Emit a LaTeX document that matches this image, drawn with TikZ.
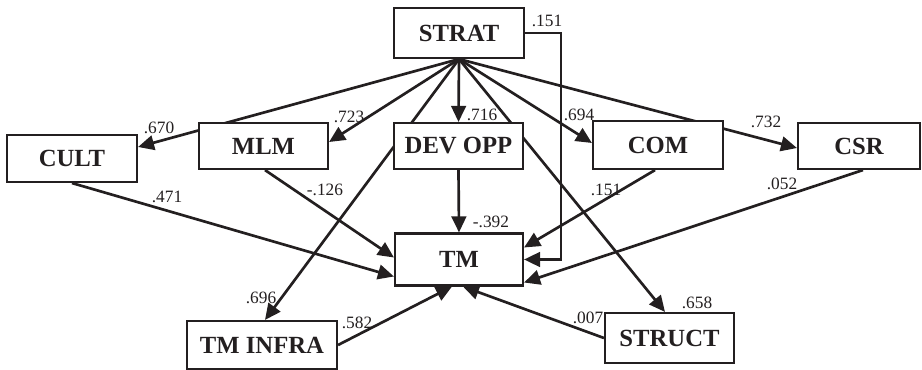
\documentclass[tikz,border=0pt]{standalone}
\usepackage{fontspec}
\setmainfont{Liberation Serif}
\usetikzlibrary{arrows.meta,calc,backgrounds}
\definecolor{ink}{RGB}{35,31,32}
\begin{document}
\begin{tikzpicture}[x=0.75pt,y=-0.75pt,
 box/.style={draw=ink,line width=1.6pt,fill=white,font=\fontsize{18.5}{20}\selectfont\bfseries,text=ink,inner sep=0pt},
 lab/.style={font=\fontsize{13}{14}\selectfont,text=ink,inner sep=0pt},
 conn/.style={draw=ink,line width=2pt,-{Triangle[length=12pt,width=11pt]}},
]
\useasboundingbox (0,0) rectangle (922,370);
% boxes
\node[box,minimum width=130*0.75pt,minimum height=50*0.75pt] (strat) at (459,33) {STRAT};
\node[box,minimum width=130*0.75pt,minimum height=47*0.75pt] (cult) at (72,158.5) {CULT};
\node[box,minimum width=129*0.75pt,minimum height=46*0.75pt] (mlm) at (263.5,146) {MLM};
\node[box,minimum width=129*0.75pt,minimum height=46*0.75pt] (dev) at (458.5,146) {DEV OPP};
\node[box,minimum width=130*0.75pt,minimum height=48*0.75pt] (com) at (658,145) {COM};
\node[box,minimum width=122*0.75pt,minimum height=46*0.75pt] (csr) at (859,146) {CSR};
\node[box,minimum width=128*0.75pt,minimum height=52*0.75pt] (tm) at (459,259.5) {TM};
\node[box,minimum width=150*0.75pt,minimum height=48*0.75pt] (infra) at (262,345) {TM INFRA};
\node[box,minimum width=129*0.75pt,minimum height=50*0.75pt] (struct) at (669.5,338) {STRUCT};
% connectors
\begin{pgfonlayer}{background}
\draw[conn] (strat.south) -- ($(cult.east)+(0,-11.5)$);
\draw[conn] (strat.south) -- ($(mlm.east)+(0,-4)$);
\draw[conn] (strat.south) -- (dev.north);
\draw[conn] (strat.south) -- ($(infra.north)+(3,0)$);
\draw[conn] (strat.south) -- ($(struct.north)+(-4.5,0)$);
\draw[conn] (strat.south) -- ($(com.west)+(0,-2)$);
\draw[conn] (strat.south) -- ($(csr.west)+(0,2)$);
\draw[conn] (strat.east) -| ($(tm.east)+(37,0)$) -- (tm.east);
\draw[conn] (cult.south) -- ($(tm.west)+(0,17)$);
\draw[conn] ($(mlm.south)+(1.5,0)$) -- ($(tm.west)+(0,-2)$);
\draw[conn] (dev.south) -- (tm.north);
\draw[conn] ($(com.south)+(-3,0)$) -- ($(tm.east)+(0,-12)$);
\draw[conn] ($(csr.south)+(4,0)$) -- ($(tm.east)+(0,23)$);
\draw[conn] (infra.east) -- ($(tm.south)+(-7,0)$);
\draw[conn] (struct.west) -- ($(tm.south)+(4,0)$);
\end{pgfonlayer}
% labels
\node[lab] (l1) at (547,21) {.151};
\node[lab] (l2) at (159,128) {.670};
\node[lab] (l3) at (349,117) {.723};
\node[lab] (l4) at (482,115) {.716};
\node[lab] (l5) at (579,115) {.694};
\node[lab] (l6) at (766,122) {.732};
\node[lab] (l7) at (606,190) {.151};
\node[lab] (l8) at (782,184) {.052};
\node[lab] (l9) at (167,197) {.471};
\node[lab] (l10) at (325,190) {-.126};
\node[lab] (l11) at (491,222) {-.392};
\node[lab] (l12) at (261,298) {.696};
\node[lab] (l13) at (357,323) {.582};
\node[lab] (l14) at (588,318) {.007};
\node[lab] (l15) at (697,303) {.658};
\end{tikzpicture}
\end{document}
